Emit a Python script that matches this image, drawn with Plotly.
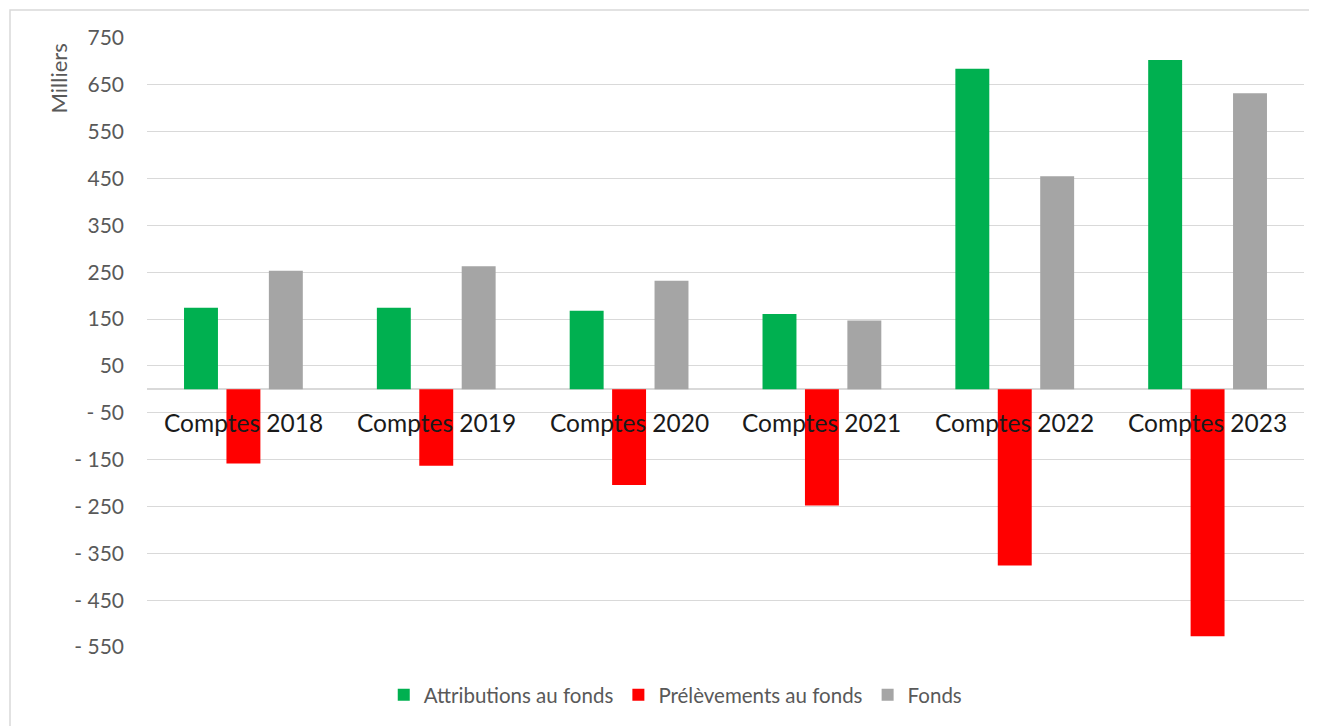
import plotly.graph_objects as go

categories = ["Comptes 2018", "Comptes 2019", "Comptes 2020", "Comptes 2021", "Comptes 2022", "Comptes 2023"]
attributions = [174, 174, 168, 161, 684, 703]
prelevements = [-158, -163, -204, -248, -376, -527]
fonds = [253, 263, 232, 147, 455, 632]

tick_vals = [750, 650, 550, 450, 350, 250, 150, 50, -50, -150, -250, -350, -450, -550]
tick_text = ["750", "650", "550", "450", "350", "250", "150", "50",
             "- 50", "- 150", "- 250", "- 350", "- 450", "- 550"]

FONT = "Lato, Carlito, Calibri, sans-serif"

fig = go.Figure()
fig.add_trace(go.Bar(name="Attributions au fonds", x=categories, y=attributions,
                     marker=dict(color="#00B050", line=dict(width=0))))
fig.add_trace(go.Bar(name="Prélèvements au fonds", x=categories, y=prelevements,
                     marker=dict(color="#FF0000", line=dict(width=0))))
fig.add_trace(go.Bar(name="Fonds", x=categories, y=fonds,
                     marker=dict(color="#A5A5A5", line=dict(width=0))))

# category labels placed just under the zero line
for c in categories:
    fig.add_annotation(x=c, y=0, xref="x", yref="y", text=c, showarrow=False,
                       yshift=-33, yanchor="middle",
                       font=dict(family=FONT, size=24.5, color="#1a1a1a"))

fig.add_annotation(x=-0.0765, y=1.0, xref="paper", yref="paper", text="Milliers",
                   textangle=-90, showarrow=False, xanchor="center", yanchor="top",
                   yshift=-4, font=dict(family=FONT, size=22, color="#595959"))

# chart border
fig.add_shape(type="rect", xref="paper", yref="paper",
              x0=-0.1184, x1=1.0078, y0=-0.135, y1=1.0441,
              line=dict(color="#D9D9D9", width=1.5), fillcolor="rgba(0,0,0,0)", layer="below")

fig.update_layout(
    width=1309, height=718,
    margin=dict(l=139, r=13, t=29, b=77),
    paper_bgcolor="white", plot_bgcolor="white",
    barmode="group", bargap=0.34, bargroupgap=0.2,
    font=dict(family=FONT, color="#595959"),
    showlegend=True,
    legend=dict(orientation="h", x=0.457, xanchor="center", y=-0.075, yanchor="middle",
                font=dict(family=FONT, size=20.5, color="#595959"),
                itemsizing="constant", traceorder="normal"),
    xaxis=dict(showticklabels=False, showgrid=False, zeroline=False, showline=False,
               ticks=""),
    yaxis=dict(range=[-552, 752], tickvals=tick_vals, ticktext=tick_text,
               showgrid=True, gridcolor="#D9D9D9", gridwidth=1,
               zeroline=True, zerolinecolor="#D9D9D9", zerolinewidth=1.5,
               showline=False, ticks="", ticklabelstandoff=22,
               tickfont=dict(family=FONT, size=21, color="#595959")),
)

fig.write_html("out.html")
